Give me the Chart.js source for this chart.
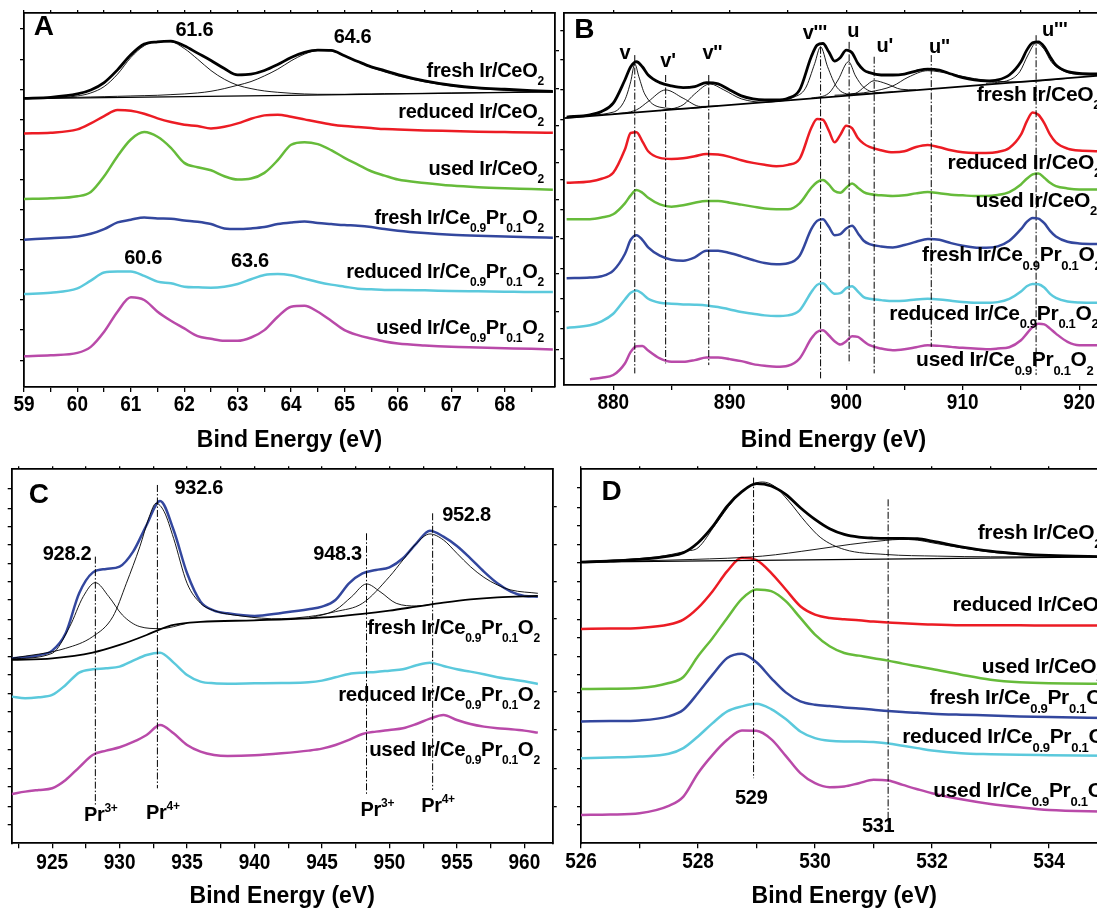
<!DOCTYPE html>
<html lang="en">
<head>
<meta charset="UTF-8" />
<title>XPS spectra Ir/CeO2 and Ir/Ce0.9Pr0.1O2</title>
<script src="https://cdn.jsdelivr.net/npm/chart.js"></script>
<style>
  html, body { margin: 0; padding: 0; background: #fff; overflow: hidden; }
  #wrap { position: relative; width: 1097px; height: 910px; overflow: hidden; background: #fff; }
  #wrap canvas { position: absolute; }
</style>
</head>
<body>
<div id="wrap">
  <canvas id="pa" width="560" height="455" style="left:0;top:0"></canvas>
  <canvas id="pb" width="560" height="455" style="left:558px;top:0"></canvas>
  <canvas id="pc" width="560" height="455" style="left:0;top:455px"></canvas>
  <canvas id="pd" width="560" height="455" style="left:558px;top:455px"></canvas>
</div>
<script>
// ---- panel A : Ir 4f ----
const aEnergy = [59, 59.5, 60, 60.25, 60.5, 60.75, 61, 61.25, 61.5, 61.75, 62, 62.25, 62.5, 62.75, 63, 63.25, 63.5, 63.75, 64, 64.25, 64.5, 64.75, 65, 65.25, 65.5, 65.75, 66, 66.5, 67, 67.5, 68, 68.5, 68.9];
const aFreshCe = [86.3, 86.6, 87.6, 88.8, 91.0, 94.8, 99.3, 102.5, 103.2, 103.4, 102.0, 99.8, 97.6, 95.2, 93.3, 93.5, 94.6, 96.4, 98.5, 100.0, 100.7, 100.6, 99.0, 97.3, 95.7, 94.6, 93.4, 91.5, 90.2, 89.4, 89.0, 88.6, 88.4];
const aFitPeak1 = [86.3, 86.4, 87.0, 87.9, 89.8, 93.5, 98.5, 102.0, 103.3, 103.2, 101.2, 98.0, 94.6, 92.0, 90.2, 89.2, 88.5, 88.1, 87.8, 87.6, 87.5, 87.5, 87.5, 87.6, 87.6, 87.7, 87.7, 87.8, 87.9, 88.0, 88.1, 88.2, 88.2];
const aFitPeak2 = [86.3, 86.4, 86.6, 86.7, 86.8, 86.9, 87.0, 87.1, 87.2, 87.4, 87.6, 87.9, 88.4, 89.2, 90.2, 91.3, 93.0, 95.0, 97.5, 99.5, 100.6, 100.5, 99.0, 97.2, 95.5, 94.2, 93.0, 91.2, 90.0, 89.2, 88.7, 88.4, 88.2];
const aBaseline = [[59, 86.2], [68.9, 88.2]];
const aReducedCe = [75.8, 76.0, 77.0, 78.8, 81.0, 82.8, 82.6, 81.7, 80.3, 79.2, 78.4, 78.0, 77.3, 77.8, 78.8, 80.2, 81.2, 81.4, 80.8, 80.0, 79.2, 78.5, 78.0, 77.7, 77.4, 77.1, 77.0, 76.7, 76.5, 76.3, 76.2, 76.1, 76.0];
const aUsedCe = [56.2, 56.4, 57.0, 58.3, 63.0, 69.0, 74.0, 76.2, 74.8, 71.5, 67.0, 65.7, 64.8, 63.0, 62.0, 62.3, 64.0, 67.8, 72.4, 73.2, 72.6, 70.8, 68.5, 66.5, 64.5, 63.2, 62.0, 61.0, 60.2, 59.7, 59.4, 59.2, 59.0];
const aFreshPr = [44.0, 44.5, 45.0, 45.8, 47.2, 49.2, 50.0, 50.7, 50.4, 50.3, 49.8, 49.4, 48.7, 47.4, 47.2, 47.4, 47.8, 48.7, 49.2, 49.5, 49.0, 48.7, 48.4, 48.2, 47.8, 47.2, 46.7, 46.0, 45.5, 45.2, 45.0, 44.8, 44.6];
const aReducedPr = [27.8, 28.2, 29.5, 31.8, 34.2, 34.5, 34.5, 33.2, 31.5, 31.0, 30.0, 29.8, 29.7, 30.0, 30.8, 32.2, 33.5, 33.8, 33.4, 32.4, 31.4, 30.6, 30.0, 29.4, 29.2, 29.0, 29.0, 28.9, 28.7, 28.6, 28.5, 28.4, 28.4];
const aUsedPr = [9.2, 9.5, 10.2, 12.0, 16.5, 22.5, 26.8, 26.0, 22.5, 19.8, 17.5, 15.2, 14.4, 13.8, 13.8, 14.8, 17.0, 21.0, 24.0, 24.3, 22.5, 19.8, 17.0, 15.5, 14.5, 13.6, 13.0, 12.4, 12.0, 11.8, 11.6, 11.4, 11.2];

// ---- panel B : Ce 3d ----
const bEnergy = [876, 878, 879, 880, 881, 881.5, 882, 882.5, 883, 884, 885, 886, 887, 888, 889, 890, 891, 892, 893, 894, 895, 896, 897, 897.5, 898, 898.5, 899, 899.5, 900, 900.5, 901, 901.5, 902, 903, 904, 905, 906, 907, 908, 909, 910, 911, 912, 913, 914, 915, 915.5, 916, 916.5, 917, 917.5, 918, 919, 920, 922];
const bFreshCe = [80.8, 81.5, 82.5, 85.0, 92.0, 96.0, 97.5, 96.0, 93.5, 91.2, 90.2, 89.7, 90.0, 91.2, 90.8, 89.0, 87.2, 86.3, 86.0, 86.0, 86.5, 89.0, 99.0, 102.5, 103.0, 100.5, 97.7, 98.8, 101.0, 100.2, 97.0, 95.0, 94.2, 93.5, 93.5, 93.8, 94.7, 95.3, 95.0, 93.8, 92.7, 92.0, 91.7, 92.0, 93.5, 97.5, 101.0, 103.2, 103.5, 102.0, 99.0, 96.5, 94.5, 94.0, 93.8];
const bReducedCe = [61.0, 61.4, 62.2, 64.0, 71.0, 76.0, 76.2, 73.5, 70.5, 68.5, 68.2, 68.4, 69.0, 69.7, 69.5, 68.8, 67.8, 67.0, 66.4, 66.0, 66.4, 68.2, 77.5, 80.2, 80.0, 76.8, 73.2, 75.5, 78.2, 77.5, 74.5, 72.8, 71.8, 70.8, 70.2, 70.5, 71.8, 72.4, 71.7, 70.8, 70.2, 70.0, 70.0, 70.3, 71.5, 75.5, 79.5, 82.2, 81.5, 79.0, 75.5, 73.2, 71.3, 70.7, 70.5];
const bUsedCe = [50.0, 50.0, 50.5, 51.5, 54.8, 57.2, 58.8, 58.0, 56.5, 54.5, 53.8, 54.2, 55.0, 55.5, 55.5, 55.0, 54.4, 53.8, 53.2, 53.0, 53.0, 54.8, 59.5, 61.2, 61.8, 60.5, 58.5, 58.0, 59.5, 60.8, 59.5, 58.2, 57.6, 57.2, 57.0, 57.2, 57.8, 58.2, 57.8, 57.4, 57.2, 57.0, 57.0, 57.3, 58.2, 60.5, 62.2, 63.5, 63.8, 62.5, 61.0, 60.0, 59.3, 59.0, 59.0];
const bFreshPr = [32.2, 32.4, 32.8, 34.5, 39.5, 43.8, 45.2, 43.8, 41.5, 39.0, 37.8, 37.5, 38.5, 40.5, 40.5, 39.8, 38.8, 37.7, 36.8, 36.4, 36.7, 39.0, 47.0, 49.5, 50.0, 47.8, 45.2, 45.5, 47.2, 48.0, 45.8, 43.5, 42.5, 41.8, 41.5, 42.2, 43.2, 44.0, 43.8, 42.8, 42.0, 41.5, 41.4, 41.8, 43.5, 47.0, 49.2, 50.4, 50.2, 48.8, 46.5, 44.8, 43.2, 42.7, 42.5];
const bReducedPr = [17.2, 18.0, 19.2, 21.5, 25.8, 27.8, 28.5, 27.5, 26.0, 24.8, 24.5, 24.3, 24.2, 24.0, 23.5, 22.8, 22.0, 21.5, 21.0, 20.8, 21.0, 22.5, 28.0, 30.2, 30.7, 29.0, 27.5, 27.7, 29.2, 29.8, 28.2, 26.5, 26.0, 25.6, 25.3, 25.4, 25.8, 26.0, 25.8, 25.4, 25.0, 24.8, 24.8, 25.0, 26.0, 28.2, 29.8, 30.5, 30.4, 29.4, 27.5, 26.3, 25.2, 24.9, 24.8];
const bUsedPr = [null, 1.7, 2.2, 3.0, 6.5, 10.0, 11.7, 11.8, 10.4, 8.0, 7.0, 7.0, 7.5, 8.3, 8.3, 7.8, 7.2, 6.3, 5.8, 5.5, 5.8, 8.0, 14.0, 16.0, 16.5, 15.0, 13.2, 12.2, 13.2, 14.7, 14.5, 13.2, 12.0, 11.0, 10.5, 10.8, 11.4, 12.0, 11.8, 11.5, 11.2, 11.0, 10.8, 11.0, 11.4, 13.5, 15.5, 17.5, 18.5, 18.3, 17.0, 15.5, 13.0, 12.0, 12.0];
const bBaseline = [[875.8, 80.5], [922, 93.4]];
const bFitV = [[876.5, 81.2], [880, 82.3], [881, 86.0], [881.5, 91.5], [881.85, 96.8], [882.2, 93.0], [882.7, 87.8], [884, 83.8], [886, 83.3], [888, 83.8]];
const bFitV1 = [[880, 81.7], [882, 83.0], [883, 85.5], [884.5, 89.0], [886, 86.5], [887.5, 84.0], [889, 84.2]];
const bFitV2 = [[884, 82.7], [886, 84.5], [887, 87.8], [888.3, 90.8], [889.5, 89.0], [891, 86.3], [893, 85.3], [895, 85.9]];
const bFitV3 = [[894, 85.6], [895.5, 86.8], [896.5, 89.5], [897.3, 97.0], [897.8, 102.0], [898.4, 96.0], [899.2, 89.8], [900.5, 87.7], [902, 87.9]];
const bFitU = [[897, 86.5], [898.5, 88.0], [899.3, 92.0], [900.2, 97.5], [900.8, 93.2], [901.5, 89.8], [902.8, 88.2], [904, 88.4]];
const bFitU1 = [[899, 87.4], [900.8, 88.0], [901.6, 90.0], [902.4, 91.8], [903.5, 90.8], [904.7, 89.2], [906, 89.0]];
const bFitU2 = [[900, 87.6], [902, 88.4], [904, 90.2], [905.3, 92.8], [907, 94.8], [909, 93.8], [911, 92.4], [913, 91.6], [915, 91.4], [917, 91.8], [919, 92.5]];
const bFitU3 = [[912, 91.0], [914, 92.0], [914.9, 94.5], [915.6, 99.5], [916.3, 103.2], [917, 101.2], [917.6, 97.5], [918.5, 95.0], [920, 93.6], [922, 93.4]];
const bMarkerEnergy = [881.85, 884.5, 888.2, 897.8, 900.25, 902.4, 907.3, 916.3];
const bMarkerTop = [99.5, 93.5, 93.5, 102, 103.5, 99, 99.5, 105.5];
const bMarkerBottom = [3.5, 6.5, 6.0, 2.0, 6.5, 3.5, 11.5, 3.0];
const bMarkerNames = ["v", "v'", "v''", "v'''", "u", "u'", "u''", "u'''"];
const bMarkerNameAt = [[881.0, 100], [884.7, 97.5], [888.5, 100], [897.3, 106], [900.6, 106.5], [903.3, 102], [908.0, 101.7], [917.9, 107]];

// ---- panel C : Pr 3d ----
const cEnergy = [922, 923, 924, 925, 926, 927, 928, 929, 930, 931, 932, 933, 934, 935, 936, 937, 938, 940, 942, 944, 945, 946, 947, 948, 949, 950, 951, 952, 953, 954, 955, 956, 957, 958, 959, 960, 961];
const cFreshPr = [55.5, 55.8, 56.4, 57.8, 63.0, 75.0, 81.2, 82.3, 83.0, 87.5, 95.5, 102.7, 94.0, 81.0, 72.5, 69.8, 69.0, 68.2, 69.1, 70.2, 71.0, 73.0, 78.0, 81.0, 82.0, 82.8, 85.5, 90.0, 93.8, 92.0, 89.2, 85.5, 81.5, 78.0, 75.5, 74.2, 74.0];
const cReducedPr = [44.0, 43.5, 43.8, 44.5, 47.5, 51.2, 52.2, 52.5, 53.0, 54.8, 56.5, 57.2, 54.2, 50.5, 48.5, 48.0, 47.9, 48.0, 48.1, 48.3, 48.8, 49.8, 50.8, 51.2, 51.4, 51.8, 52.2, 53.4, 54.2, 53.2, 52.2, 51.5, 50.7, 49.8, 49.2, 48.6, 47.8];
const cUsedPr = [14.8, 15.5, 16.0, 16.5, 19.0, 22.8, 26.5, 27.8, 28.8, 30.4, 32.5, 35.5, 33.0, 29.5, 27.5, 26.5, 26.2, 26.4, 27.0, 27.8, 28.4, 29.5, 31.0, 32.8, 33.5, 34.0, 34.5, 35.8, 37.4, 38.5, 37.0, 35.8, 35.0, 34.5, 34.2, 33.8, 33.2];
const cBackground = [[922, 55.0], [925, 55.5], [928, 57.2], [930, 59.5], [932, 62.5], [933, 64.2], [934, 65.5], [936, 66.4], [940, 66.9], [944, 67.5], [946, 68.0], [948, 68.8], [950, 69.8], [952, 71.0], [954, 72.2], [956, 73.2], [958, 73.8], [961, 74.2]];
const cFit1 = [[922, 55.3], [925, 57.0], [926.3, 65.0], [927.3, 74.0], [928.2, 78.2], [929.2, 74.0], [930.2, 68.5], [931.5, 65.0], [933, 64.4], [935, 66.0]];
const cFit2 = [[922, 55.5], [926, 58.5], [928, 62.0], [929.5, 68.0], [930.5, 78.0], [931.5, 89.0], [932.2, 98.0], [932.7, 102.0], [933.3, 99.5], [934, 91.5], [935, 78.0], [936, 72.0], [937, 69.8], [939, 68.2], [942, 67.3], [944, 67.5]];
const cFit3 = [[944, 67.5], [946, 70.0], [947.2, 74.0], [948.3, 77.8], [949.3, 75.5], [950.5, 72.0], [952, 71.2], [953, 71.6]];
const cFit4 = [[940, 66.9], [944, 68.0], [946, 69.5], [948, 72.0], [950, 80.0], [951, 85.0], [952, 90.0], [953, 92.8], [954, 91.0], [955, 87.0], [956, 83.0], [957, 79.8], [958, 77.5], [959, 76.0], [961, 75.0]];
const cMarkerEnergy = [928.2, 932.8, 948.3, 953.2];
const cMarkerTop = [86, 107.5, 93, 99];
const cMarkerBottom = [11.5, 16.5, 14.5, 16];

// ---- panel D : O 1s ----
const dEnergy = [526, 526.5, 527, 527.5, 527.75, 528, 528.25, 528.5, 528.75, 529, 529.25, 529.5, 529.75, 530, 530.25, 530.5, 530.75, 531, 531.25, 531.5, 531.75, 532, 532.5, 533, 533.5, 534, 535];
const dFreshCe = [84.2, 84.5, 85.0, 86.0, 87.0, 90.0, 94.8, 101.0, 105.3, 107.7, 107.0, 104.5, 100.5, 97.0, 94.2, 92.5, 91.7, 91.4, 91.3, 91.3, 91.2, 90.5, 88.8, 87.5, 86.7, 86.2, 85.8];
const dReducedCe = [64.2, 64.3, 64.5, 65.5, 67.0, 70.5, 75.5, 81.5, 85.5, 84.8, 81.0, 76.0, 71.0, 68.5, 67.5, 67.1, 66.8, 66.4, 66.1, 65.9, 65.7, 65.5, 65.3, 65.3, 65.3, 65.2, 65.2];
const dUsedCe = [46.2, 46.3, 46.5, 48.0, 49.8, 56.0, 61.5, 67.5, 73.2, 76.0, 75.5, 72.5, 67.5, 62.5, 59.0, 57.0, 56.2, 55.4, 54.7, 53.8, 53.0, 52.2, 50.5, 49.0, 48.2, 47.9, 47.8];
const dFreshPr = [36.5, 36.6, 36.8, 38.0, 40.0, 45.0, 50.5, 55.5, 56.8, 54.2, 49.5, 45.2, 42.5, 41.5, 41.1, 40.7, 40.4, 40.0, 39.6, 39.3, 39.1, 38.8, 38.5, 38.3, 38.0, 37.8, 37.5];
const dReducedPr = [25.5, 25.7, 26.0, 26.8, 28.5, 32.0, 36.0, 39.5, 41.0, 41.8, 40.2, 37.2, 33.5, 31.5, 30.7, 30.5, 30.5, 30.3, 29.9, 29.2, 28.5, 27.8, 27.0, 26.7, 26.5, 26.4, 26.2];
const dUsedPr = [8.5, 8.6, 9.0, 11.2, 14.0, 21.0, 26.5, 31.0, 33.8, 33.7, 31.2, 26.2, 21.0, 18.0, 16.8, 17.0, 18.0, 19.0, 18.8, 17.5, 16.2, 15.0, 13.2, 11.8, 10.8, 10.0, 9.5];
const dBaseline = [[526, 84.2], [535, 85.8]];
const dFit1 = [[526, 84.4], [527.3, 85.8], [527.8, 87.5], [528, 88.5], [528.3, 95.5], [528.6, 102.5], [528.9, 107.2], [529.1, 108.2], [529.3, 107.0], [529.55, 102.5], [529.85, 96.0], [530.1, 91.5], [530.5, 88.0], [531.2, 86.5], [532.1, 86.0], [533, 85.8], [535, 85.8]];
const dFit2 = [[526, 84.2], [527.9, 85.0], [529.1, 86.0], [530, 88.0], [530.6, 89.5], [531.2, 90.7], [531.45, 91.0], [531.75, 90.8], [532, 90.0], [532.6, 88.2], [533.2, 86.8], [534.1, 86.0], [535, 85.8]];
const dMarkerEnergy = [528.95, 531.25];
const dMarkerTop = [109.5, 103];
const dMarkerBottom = [19.5, 3.0];

const seriesNames = ["fresh Ir/CeO_2", "reduced Ir/CeO_2", "used Ir/CeO_2",
  "fresh Ir/Ce_{0.9}Pr_{0.1}O_2", "reduced Ir/Ce_{0.9}Pr_{0.1}O_2", "used Ir/Ce_{0.9}Pr_{0.1}O_2"];

const RED = "#ec1c24", GREEN = "#66bb3a", BLUE = "#33479e", CYAN = "#5bc9dc", MAGENTA = "#b94aa9";

const SANS = '"Liberation Sans", Arial, sans-serif';
const TICK_FONT = { family: SANS, size: 19, weight: "bold" };
const TICK_STRETCH = 1.15; // tick digits in the figure are taller than wide

Chart.defaults.font.family = SANS;
Chart.defaults.color = "#000";

// rich text labels (sub/superscripts), placed with the chart's scales
function parseRich(t) {
  const runs = [];
  const re = /_\{([^}]*)\}|\^\{([^}]*)\}|_(.)|([^_^]+)/g;
  let m;
  while ((m = re.exec(t))) {
    if (m[1] !== undefined) runs.push({ s: m[1], k: "sub" });
    else if (m[2] !== undefined) runs.push({ s: m[2], k: "sup" });
    else if (m[3] !== undefined) runs.push({ s: m[3], k: "sub" });
    else runs.push({ s: m[4], k: "" });
  }
  return runs;
}
const richText = {
  id: "richText",
  afterDatasetsDraw(chart, args, opts) {
    const ctx = chart.ctx, xs = chart.scales.x, ys = chart.scales.y;
    for (const it of opts.items || []) {
      const size = it.size || opts.size;
      const small = Math.round(size * 0.6);
      const runs = parseRich(it.text);
      ctx.save();
      ctx.letterSpacing = "-0.3px";
      let w = 0;
      for (const r of runs) {
        ctx.font = `bold ${r.k ? small : size}px ${SANS}`;
        r.w = ctx.measureText(r.s).width;
        w += r.w;
      }
      let px = xs.getPixelForValue(it.x);
      const py = ys.getPixelForValue(it.y);
      if (it.align === "center") px -= w / 2;
      else if (it.align === "right") px -= w;
      ctx.fillStyle = "#000";
      ctx.textBaseline = "middle";
      for (const r of runs) {
        ctx.font = `bold ${r.k ? small : size}px ${SANS}`;
        const dy = r.k === "sub" ? size * 0.52 : r.k === "sup" ? -size * 0.36 : 0;
        ctx.fillText(r.s, px, py + dy);
        px += r.w;
      }
      ctx.restore();
    }
  }
};

// stretch the tick labels vertically while the axis draws them
function stretchLabels(s) {
  if (s._stretched) return;
  s._stretched = true;
  const orig = s.drawLabels.bind(s);
  s.drawLabels = (area) => {
    const ctx = s.ctx, ft = ctx.fillText;
    ctx.fillText = function (t, x, y) {
      this.save();
      this.translate(x, y);
      this.scale(1, TICK_STRETCH);
      ft.call(this, t, 0, 0);
      this.restore();
    };
    try { orig(area); } finally { ctx.fillText = ft; }
  };
}

const zip = (xs, ys) => xs.map((x, i) => ({ x, y: ys[i] }));
const pairs = (arr) => arr.map(([x, y]) => ({ x, y }));
function curve(data, color, width) {
  return { data, borderColor: color, borderWidth: width, pointRadius: 0, fill: false,
    cubicInterpolationMode: "monotone", spanGaps: false };
}
function markers(xs, tops, bottoms) {
  return xs.map((x, i) => ({
    data: [{ x, y: tops[i] }, { x, y: bottoms[i] }],
    borderColor: "#000", borderWidth: 1, borderDash: [7, 2, 1.5, 2], pointRadius: 0, fill: false
  }));
}

function panel(id, o) {
  const border = { color: "#000", width: 1.8 };
  const tickGrid = (len) => ({ drawOnChartArea: false, drawTicks: true, tickLength: len, color: "#000", lineWidth: 1.3 });
  const near = (v, s) => Math.abs(v / s - Math.round(v / s)) < 1e-6;
  return new Chart(document.getElementById(id), {
    type: "line",
    data: { datasets: o.datasets },
    options: {
      responsive: false,
      animation: false,
      events: [],
      layout: { padding: 0 },
      plugins: { legend: { display: false }, tooltip: { enabled: false },
        richText: { items: o.labels, size: o.labelSize } },
      scales: {
        x: {
          type: "linear", position: "bottom", min: o.xMin, max: o.xMax,
          afterFit: (s) => { s.height = o.box[3]; stretchLabels(s); },
          border,
          grid: tickGrid(5),
          ticks: {
            stepSize: o.xStep, includeBounds: false, autoSkip: false, maxRotation: 0, padding: o.tickPad,
            font: TICK_FONT, color: "#000",
            callback: (v) => (near(v, o.xLabelStep) ? String(Math.round(v)) : "")
          },
          title: { display: true, text: "Bind Energy (eV)", color: "#000",
            font: { family: SANS, size: 23, weight: "bold" }, padding: { top: 0, bottom: o.titlePad } }
        },
        x2: {
          type: "linear", position: "top", min: o.xMin, max: o.xMax,
          afterFit: (s) => { s.height = o.box[1]; },
          border, grid: tickGrid(3),
          ticks: { display: false, stepSize: o.xStep, includeBounds: false }
        },
        y: {
          type: "linear", position: "left", min: 0, max: o.yMax,
          afterFit: (s) => { s.width = o.box[0]; },
          afterBuildTicks: (s) => { s.ticks = o.yTicks.map((v) => ({ value: v })); },
          border, grid: tickGrid(4), ticks: { display: false }
        },
        y2: {
          type: "linear", position: "right", min: 0, max: o.yMax,
          afterFit: (s) => { s.width = o.box[2]; },
          afterBuildTicks: (s) => { s.ticks = o.y2Ticks.map((v) => ({ value: v })); },
          border, grid: tickGrid(4), ticks: { display: false }
        }
      }
    },
    plugins: [richText]
  });
}

const leftTicksA = [8, 17, 26, 35, 44, 53, 62, 71, 80, 89, 98, 107];
const rightTicksA = [11.2, 22.5, 33.8, 44.8, 56, 67, 78, 89.2, 100.5];
const leftTicksC = [5.5, 11, 17, 22.5, 28, 33.5, 39.5, 45, 50.5, 56, 61.5, 67, 73, 78.5, 84, 89.5, 95, 100.5, 106.5];
const rightTicksC = [11, 22.5, 34, 45.5, 56.5, 67.5, 78.5, 89.5, 101];

// panel A
panel("pa", {
  xMin: 59, xMax: 68.94, xStep: 0.5, xLabelStep: 1, yMax: 111.8, labelSize: 20,
  box: [24, 13, 5, 68], titlePad: 1, tickPad: 1.5, yTicks: leftTicksA, y2Ticks: rightTicksA,
  datasets: [
    curve(pairs(aBaseline), "#000", 1.2),
    curve(zip(aEnergy, aFitPeak1), "#000", 0.9),
    curve(zip(aEnergy, aFitPeak2), "#000", 0.9),
    curve(zip(aEnergy, aFreshCe), "#000", 2.8),
    curve(zip(aEnergy, aReducedCe), RED, 2.5),
    curve(zip(aEnergy, aUsedCe), GREEN, 2.5),
    curve(zip(aEnergy, aFreshPr), BLUE, 2.5),
    curve(zip(aEnergy, aReducedPr), CYAN, 2.5),
    curve(zip(aEnergy, aUsedPr), MAGENTA, 2.5)
  ],
  labels: [
    { text: "A", x: 59.37, y: 107.5, align: "center", size: 28 },
    { text: "61.6", x: 62.19, y: 106.5, align: "center" },
    { text: "64.6", x: 65.15, y: 104.5, align: "center" },
    { text: "60.6", x: 61.23, y: 38.5, align: "center" },
    { text: "63.6", x: 63.23, y: 37.5, align: "center" },
    { text: seriesNames[0], x: 68.73, y: 94.3, align: "right" },
    { text: seriesNames[1], x: 68.73, y: 82.0, align: "right" },
    { text: seriesNames[2], x: 68.73, y: 65.0, align: "right" },
    { text: seriesNames[3], x: 68.73, y: 50.3, align: "right" },
    { text: seriesNames[4], x: 68.73, y: 34.2, align: "right" },
    { text: seriesNames[5], x: 68.73, y: 17.5, align: "right" }
  ]
});

// panel B
panel("pb", {
  xMin: 875.8, xMax: 922, xStep: 5, xLabelStep: 10, yMax: 112.2, labelSize: 21,
  box: [6.3, 13, 15.5, 70], titlePad: 1, tickPad: 1.5, yTicks: leftTicksA, y2Ticks: [],
  datasets: [
    curve(pairs(bBaseline), "#000", 1.8),
    ...[bFitV, bFitV1, bFitV2, bFitV3, bFitU, bFitU1, bFitU2, bFitU3].map((f) => curve(pairs(f), "#000", 0.9)),
    ...markers(bMarkerEnergy, bMarkerTop, bMarkerBottom),
    curve(zip(bEnergy, bFreshCe), "#000", 2.8),
    curve(zip(bEnergy, bReducedCe), RED, 2.5),
    curve(zip(bEnergy, bUsedCe), GREEN, 2.5),
    curve(zip(bEnergy, bFreshPr), BLUE, 2.5),
    curve(zip(bEnergy, bReducedPr), CYAN, 2.5),
    curve(zip(bEnergy, bUsedPr), MAGENTA, 2.5)
  ],
  labels: [
    { text: "B", x: 877.5, y: 107, align: "center", size: 28 },
    ...bMarkerNames.map((t, i) => ({ text: t, x: bMarkerNameAt[i][0], y: bMarkerNameAt[i][1], align: "center", size: 20 })),
    { text: seriesNames[0], x: 911.2, y: 87.5, align: "left" },
    { text: seriesNames[1], x: 908.7, y: 67.0, align: "left" },
    { text: seriesNames[2], x: 911.1, y: 55.5, align: "left" },
    { text: seriesNames[3], x: 906.5, y: 39.0, align: "left" },
    { text: seriesNames[4], x: 903.7, y: 21.5, align: "left" },
    { text: seriesNames[5], x: 906.0, y: 7.5, align: "left" }
  ]
});

// panel C
panel("pc", {
  xMin: 922, xMax: 962.1, xStep: 2.5, xLabelStep: 5, yMax: 112.2, labelSize: 20.5,
  box: [11.7, 14.3, 7.3, 66.7], titlePad: 0, tickPad: 3, yTicks: leftTicksC, y2Ticks: rightTicksC,
  datasets: [
    curve(pairs(cBackground), "#000", 1.8),
    ...[cFit1, cFit2, cFit3, cFit4].map((f) => curve(pairs(f), "#000", 0.9)),
    ...markers(cMarkerEnergy, cMarkerTop, cMarkerBottom),
    curve(zip(cEnergy, cFreshPr), BLUE, 2.5),
    curve(zip(cEnergy, cReducedPr), CYAN, 2.5),
    curve(zip(cEnergy, cUsedPr), MAGENTA, 2.5)
  ],
  labels: [
    { text: "C", x: 924.0, y: 104.5, align: "center", size: 28 },
    { text: "932.6", x: 935.87, y: 106.5, align: "center", size: 20 },
    { text: "928.2", x: 926.1, y: 86.5, align: "center", size: 20 },
    { text: "948.3", x: 946.16, y: 86.5, align: "center", size: 20 },
    { text: "952.8", x: 955.71, y: 98.2, align: "center", size: 20 },
    { text: seriesNames[3], x: 961.15, y: 64.5, align: "right" },
    { text: seriesNames[4], x: 961.15, y: 44.5, align: "right" },
    { text: seriesNames[5], x: 961.15, y: 28.0, align: "right" },
    { text: "Pr^{3+}", x: 928.6, y: 8.2, align: "center", size: 20 },
    { text: "Pr^{4+}", x: 933.2, y: 8.8, align: "center", size: 20 },
    { text: "Pr^{3+}", x: 949.1, y: 9.8, align: "center", size: 20 },
    { text: "Pr^{4+}", x: 953.6, y: 11.0, align: "center", size: 20 }
  ]
});

// panel D
panel("pd", {
  xMin: 526, xMax: 535, xStep: 1, xLabelStep: 2, yMax: 112.0, labelSize: 21,
  box: [23, 14.3, 10.5, 66.7], titlePad: 0, tickPad: 2.5, yTicks: leftTicksC, y2Ticks: [],
  datasets: [
    curve(pairs(dBaseline), "#000", 1.2),
    curve(pairs(dFit1), "#000", 0.9),
    curve(pairs(dFit2), "#000", 0.9),
    ...markers(dMarkerEnergy, dMarkerTop, dMarkerBottom),
    curve(zip(dEnergy, dFreshCe), "#000", 2.8),
    curve(zip(dEnergy, dReducedCe), RED, 2.5),
    curve(zip(dEnergy, dUsedCe), GREEN, 2.5),
    curve(zip(dEnergy, dFreshPr), BLUE, 2.5),
    curve(zip(dEnergy, dReducedPr), CYAN, 2.5),
    curve(zip(dEnergy, dUsedPr), MAGENTA, 2.5)
  ],
  labels: [
    { text: "D", x: 526.52, y: 105, align: "center", size: 28 },
    { text: "529", x: 528.91, y: 13.5, align: "center", size: 20 },
    { text: "531", x: 531.08, y: 5.0, align: "center", size: 20 },
    { text: seriesNames[0], x: 532.78, y: 92.8, align: "left" },
    { text: seriesNames[1], x: 532.35, y: 71.3, align: "left" },
    { text: seriesNames[2], x: 532.85, y: 52.8, align: "left" },
    { text: seriesNames[3], x: 531.96, y: 43.5, align: "left" },
    { text: seriesNames[4], x: 531.49, y: 31.8, align: "left" },
    { text: seriesNames[5], x: 532.02, y: 15.5, align: "left" }
  ]
});
</script>
</body>
</html>
